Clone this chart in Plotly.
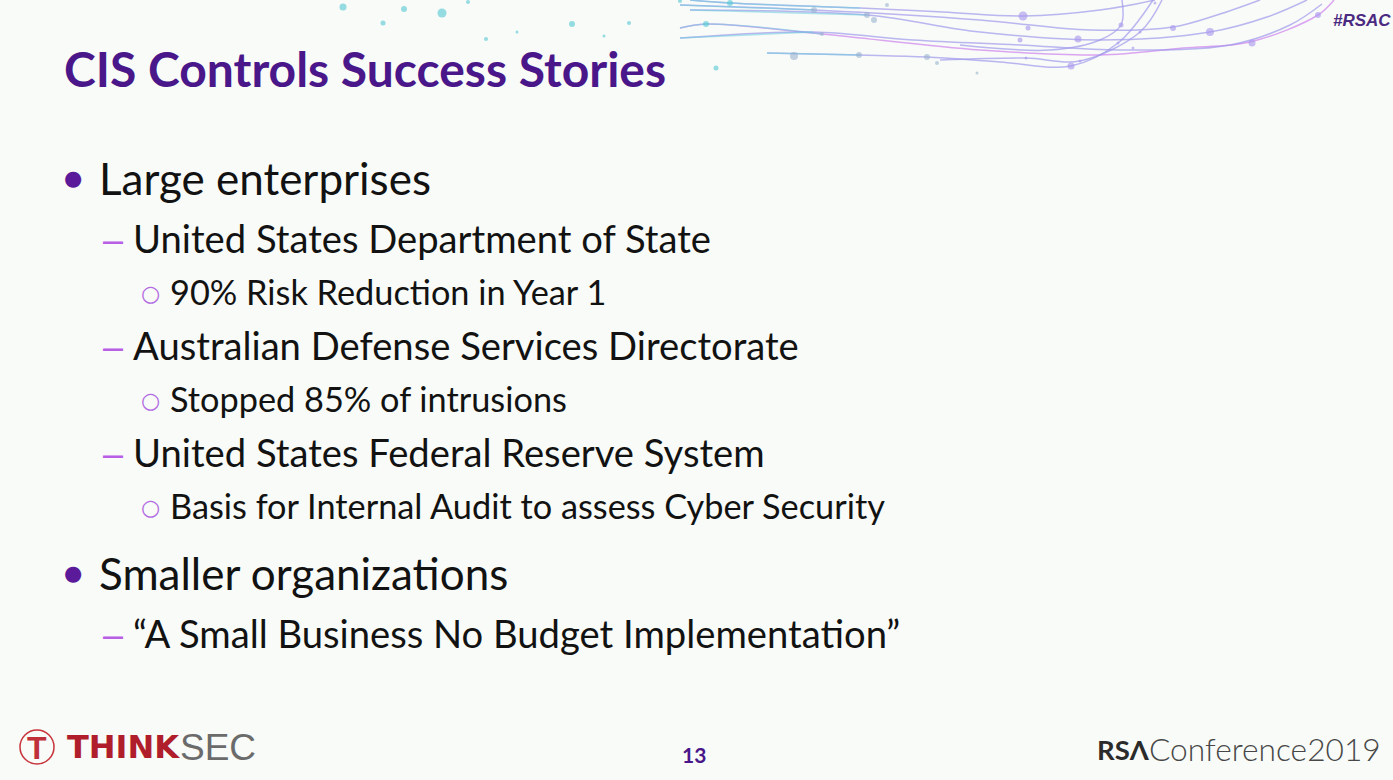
import plotly.graph_objects as go

W, H = 1393, 780

title = "CIS Controls Success Stories"
items = [
    "Large enterprises",
    "United States Department of State",
    "90% Risk Reduction in Year 1",
    "Australian Defense Services Directorate",
    "Stopped 85% of intrusions",
    "United States Federal Reserve System",
    "Basis for Internal Audit to assess Cyber Security",
    "Smaller organizations",
    "\u201cA Small Business No Budget Implementation\u201d",
]
levels = [1, 2, 3, 2, 3, 2, 3, 1, 2]
page_number = "13"
hashtag = "#RSAC"

# swoosh decoration along the top edge (px, y down)
swoosh_x = [
    [690, 730, 860, 943, 1023, 1100, 1155],
    [680, 814, 980, 1090, 1173, 1217, 1260],
    [690, 867, 980, 1100, 1210, 1267, 1307],
    [680, 706, 822, 980, 1100, 1183, 1250, 1318, 1334],
    [680, 813, 913, 1020, 1120, 1230, 1290, 1322],
    [767, 860, 927, 1000, 1071, 1118, 1153],
    [940, 1026, 1080, 1140, 1162],
    [960, 1050, 1100, 1121, 1122],
]
swoosh_y = [
    [0, 3, 8, 12, 16, 10, 0],
    [5, 10, 20, 30, 27, 15, 0],
    [10, 15, 32, 40, 32, 17, 0],
    [28, 24, 34, 50, 55, 48, 42, 15, 0],
    [38, 32, 40, 45, 50, 45, 25, 4],
    [53, 55, 57, 62, 66, 43, 0],
    [60, 58, 61, 32, 0],
    [45, 50, 40, 25, 0],
]
dots_x = [343, 404, 442, 383, 468, 572, 629, 706, 680, 730, 486, 517, 604,
          716, 794, 814, 867, 874, 887, 822, 859, 927, 937, 977,
          1023, 1028, 1020, 1078, 1121, 1173, 1210, 1252, 1318, 1133,
          1155, 1071, 1026, 1080, 1118, 1140]
dots_y = [7, 9, 13, 23, 2, 24, 23, 24, 1, 3, 39, 32, 36,
          68, 56, 10, 15, 20, 5, 34, 55, 57, 63, 73,
          16, 28, 40, 39, 25, 28, 32, 43, 15, 48,
          3, 66, 58, 61, 43, 32]
dots_size = [7, 6, 9, 5, 4, 6, 4, 6, 4, 6, 4, 3, 3,
             5, 8, 6, 6, 6, 4, 4, 6, 6, 4, 3,
             9, 5, 5, 7, 5, 6, 8, 7, 6, 3,
             3, 7, 3, 3, 3, 3]

PURPLE = "#4A178A"
TEXT = "#121212"

LEVEL = {
    1: dict(size=44, text_x=97, bullet="\u25cf", bullet_x=73, bullet_dy=0,
            bullet_font="DejaVu Sans", bullet_size=21, bullet_color="#5B1A99"),
    2: dict(size=38.2, text_x=131, bullet="\u2013", bullet_x=113, bullet_dy=1,
            bullet_font="Liberation Sans", bullet_size=36, bullet_color="#B85FE6"),
    3: dict(size=34.3, text_x=168, bullet="\u25cb", bullet_x=150, bullet_dy=2,
            bullet_font="DejaVu Sans", bullet_size=22, bullet_color="#B36BE3"),
}


def step(prev, cur):
    if cur == 1:
        return 68
    if prev == 1:
        return 60
    if cur == 3:
        return 53
    return 54


fig = go.Figure()

# swooshes
for i, (xs, ys) in enumerate(zip(swoosh_x, swoosh_y)):
    col = "rgba(214,150,240,0.85)" if i == 3 else "rgba(160,152,236,0.7)"
    fig.add_trace(go.Scatter(x=xs, y=ys, mode="lines", line=dict(color=col, width=1.5, shape="spline"),
                             hoverinfo="skip", showlegend=False))
    lx = [x for x in xs if x < 870]
    if len(lx) >= 2:
        fig.add_trace(go.Scatter(x=lx, y=ys[:len(lx)], mode="lines",
                                 line=dict(color="rgba(110,205,222,0.55)", width=1.5, shape="spline"),
                                 hoverinfo="skip", showlegend=False))

dot_cols = []
for x in dots_x:
    if x < 740:
        dot_cols.append("rgba(80,200,212,0.85)")
    elif x < 1000:
        dot_cols.append("rgba(150,175,205,0.8)")
    else:
        dot_cols.append("rgba(170,152,238,0.9)")
fig.add_trace(go.Scatter(x=dots_x, y=dots_y, mode="markers",
                         marker=dict(size=dots_size, color=dot_cols, line=dict(width=0)),
                         hoverinfo="skip", showlegend=False))

ann = []
ann.append(dict(x=62, y=68, text=f"<b>{title}</b>", xanchor="left", yanchor="middle",
                font=dict(family="Lato", size=48, color=PURPLE)))

y = 178
prev = None
for txt, lv in zip(items, levels):
    if prev is not None:
        y += step(prev, lv)
    st = LEVEL[lv]
    ann.append(dict(x=st["bullet_x"], y=y + st["bullet_dy"], text=st["bullet"], xanchor="center",
                    yanchor="middle",
                    font=dict(family=st["bullet_font"], size=st["bullet_size"], color=st["bullet_color"])))
    ann.append(dict(x=st["text_x"], y=y, text=txt, xanchor="left", yanchor="middle",
                    font=dict(family="Lato", size=st["size"], color=TEXT)))
    prev = lv

# footer
ann.append(dict(x=694, y=754, text=f"<b>{page_number}</b>", xanchor="center", yanchor="middle",
                font=dict(family="Lato", size=21, color=PURPLE)))
ann.append(dict(x=1331, y=20, text=f"<b><i>{hashtag}</i></b>", xanchor="left", yanchor="middle",
                font=dict(family="Liberation Sans", size=17, color="#4B2A82")))

ann.append(dict(x=37, y=748, text="<b>T</b>", xanchor="center", yanchor="middle",
                font=dict(family="Liberation Sans", size=32, color="#C0303A")))
ann.append(dict(x=182, y=747, text="<b>THINK</b>", xanchor="right", yanchor="middle",
                font=dict(family="DejaVu Sans", size=32, color="#B01E2C")))
ann.append(dict(x=178, y=747, text="SEC", xanchor="left", yanchor="middle",
                font=dict(family="Liberation Sans", size=37, color="#6B6B6B")))

ann.append(dict(x=1152, y=749, text="<b>RS\u039b</b>", xanchor="right", yanchor="middle",
                font=dict(family="Lato", size=27.5, color="#2B2B2B")))
ann.append(dict(x=1147, y=749, text="Conference2019", xanchor="left", yanchor="middle",
                font=dict(family="Lato", size=31.7, weight=300, color="#474747")))

for a in ann:
    a.update(xref="x", yref="y", showarrow=False)

shapes = [dict(type="circle", xref="x", yref="y", x0=20, x1=54, y0=730, y1=764,
               line=dict(color="#C8323A", width=1.5))]

fig.update_layout(
    width=W, height=H,
    margin=dict(l=0, r=0, t=0, b=0),
    paper_bgcolor="#F8FBF7", plot_bgcolor="#F8FBF7",
    xaxis=dict(range=[0, W], visible=False, fixedrange=True),
    yaxis=dict(range=[H, 0], visible=False, fixedrange=True),
    annotations=ann, shapes=shapes,
    showlegend=False,
)

fig.write_html("out.html", config={"displayModeBar": False},
               post_script="document.body.style.margin='0';document.body.style.overflow='hidden';")
